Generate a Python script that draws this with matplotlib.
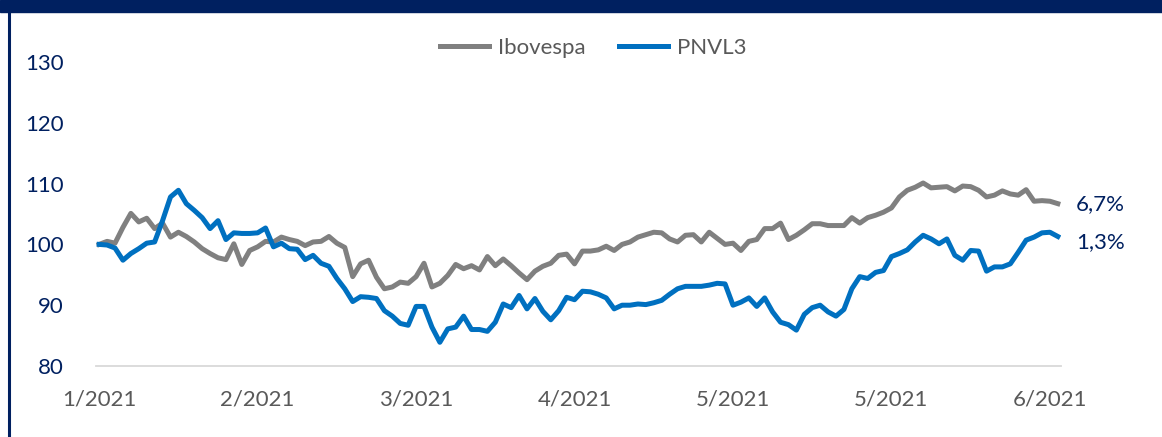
import matplotlib.pyplot as plt
from matplotlib.patches import Rectangle
from matplotlib.lines import Line2D

# valores (base 100)
ibovespa = [100, 100.5, 100.2, 102.8, 105.1, 103.7, 104.3, 102.6, 103.5, 101.2,
            102.0, 101.3, 100.4, 99.3, 98.5, 97.8, 97.5, 100.1, 96.7, 99.0,
            99.6, 100.5, 100.4, 101.2, 100.8, 100.5, 99.8, 100.4, 100.5, 101.3,
            100.2, 99.5, 94.7, 96.8, 97.4, 94.6, 92.7, 93.0, 93.8, 93.6,
            94.7, 96.9, 93.0, 93.6, 94.9, 96.7, 96.0, 96.5, 95.8, 98.0,
            96.5, 97.6, 96.5, 95.3, 94.2, 95.6, 96.4, 96.9, 98.2, 98.4,
            96.8, 98.9, 98.9, 99.1, 99.7, 99.0, 100.0, 100.4, 101.2, 101.6,
            102.0, 101.9, 100.9, 100.4, 101.5, 101.6, 100.4, 102.0, 101.0,
            100.0, 100.2, 99.0, 100.5, 100.8, 102.6, 102.6, 103.5, 100.8, 101.5,
            102.4, 103.4, 103.4, 103.1, 103.1, 103.1, 104.4, 103.5, 104.4, 104.8,
            105.3, 106.0, 107.8, 108.9, 109.4, 110.1, 109.3, 109.4, 109.5, 108.8,
            109.6, 109.5, 108.9, 107.8, 108.1, 108.8, 108.3, 108.1, 109.0, 107.1,
            107.2, 107.1, 106.7]
pnvl3 = [100, 99.9, 99.4, 97.4, 98.5, 99.3, 100.2, 100.4, 103.9, 107.8,
         108.9, 106.7, 105.6, 104.4, 102.6, 103.9, 100.8, 101.9, 101.8, 101.8,
         101.9, 102.7, 99.6, 100.2, 99.3, 99.2, 97.5, 98.2, 96.9, 96.4,
         94.4, 92.7, 90.6, 91.4, 91.3, 91.1, 89.1, 88.2, 87.0, 86.7,
         89.8, 89.8, 86.4, 83.9, 86.1, 86.4, 88.2, 86.0, 86.0, 85.7,
         87.2, 90.2, 89.6, 91.6, 89.4, 91.1, 89.0, 87.6, 89.1, 91.3,
         90.9, 92.3, 92.2, 91.8, 91.2, 89.4, 90.0, 90.0, 90.2, 90.1,
         90.4, 90.8, 91.8, 92.7, 93.1, 93.1, 93.1, 93.3, 93.6,
         93.5, 90.0, 90.5, 91.2, 89.8, 91.2, 88.9, 87.2, 86.8, 85.9,
         88.5, 89.6, 90.0, 88.9, 88.2, 89.3, 92.7, 94.7, 94.4, 95.4,
         95.7, 98.0, 98.5, 99.1, 100.4, 101.5, 100.9, 100.1, 100.9, 98.2,
         97.4, 99.0, 98.9, 95.6, 96.3, 96.3, 96.8, 98.7, 100.7, 101.2,
         101.9, 102.0, 101.3]
tick_labels = ['1/2021', '2/2021', '3/2021', '4/2021', '5/2021', '5/2021', '6/2021']
end_labels = ['6,7%', '1,3%']

navy = '#002060'
plt.rcParams['font.family'] = ['Lato', 'DejaVu Sans']

fig = plt.figure(figsize=(11.62, 4.37), dpi=100)
ax = fig.add_axes([96 / 1162, 1 - 366 / 437, 965 / 1162, 304 / 437])

x = list(range(len(ibovespa)))
ax.plot(x, ibovespa, color='#808080', lw=3.6, label='Ibovespa', solid_joinstyle='round')
ax.plot(x, pnvl3, color='#0070C0', lw=3.6, label='PNVL3', solid_joinstyle='round')

ax.set_xlim(-0.4, len(x) - 1 + 0.4)
ax.set_ylim(80, 130)
ax.set_yticks([80, 90, 100, 110, 120, 130])
ax.set_xticks([0, 20, 40, 60, 80, 100, 120])
ax.set_xticklabels(tick_labels)
ax.tick_params(axis='y', length=0, pad=23, labelsize=16, labelcolor=navy)
ax.tick_params(axis='x', length=0, pad=17, labelsize=16, labelcolor='#595959')

for s in ['top', 'right', 'left']:
    ax.spines[s].set_visible(False)
ax.spines['bottom'].set_color('#D9D9D9')
ax.spines['bottom'].set_linewidth(1.3)

ax.annotate(end_labels[0], (x[-1], ibovespa[-1]), xytext=(13, 0), textcoords='offset points',
            va='center', ha='left', fontsize=16, color=navy, annotation_clip=False)
ax.annotate(end_labels[1], (x[-1], pnvl3[-1]), xytext=(13, -4), textcoords='offset points',
            va='center', ha='left', fontsize=16, color=navy, annotation_clip=False)

fig.legend(loc='center', bbox_to_anchor=(593 / 1162, 1 - 48 / 437), ncol=2, frameon=False,
           fontsize=16, handlelength=2.2, handletextpad=0.4, columnspacing=1.5,
           labelcolor='#595959')

# faixa do título (cortada) e borda esquerda
fig.patches.append(Rectangle((0, 1 - 12 / 437), 1, 12 / 437, transform=fig.transFigure,
                             color=navy, zorder=0))
fig.lines.append(Line2D([8.5 / 1162, 8.5 / 1162], [0, 1 - 12 / 437], transform=fig.transFigure,
                        color=navy, lw=2.2))

plt.savefig('out.png', dpi=100)
